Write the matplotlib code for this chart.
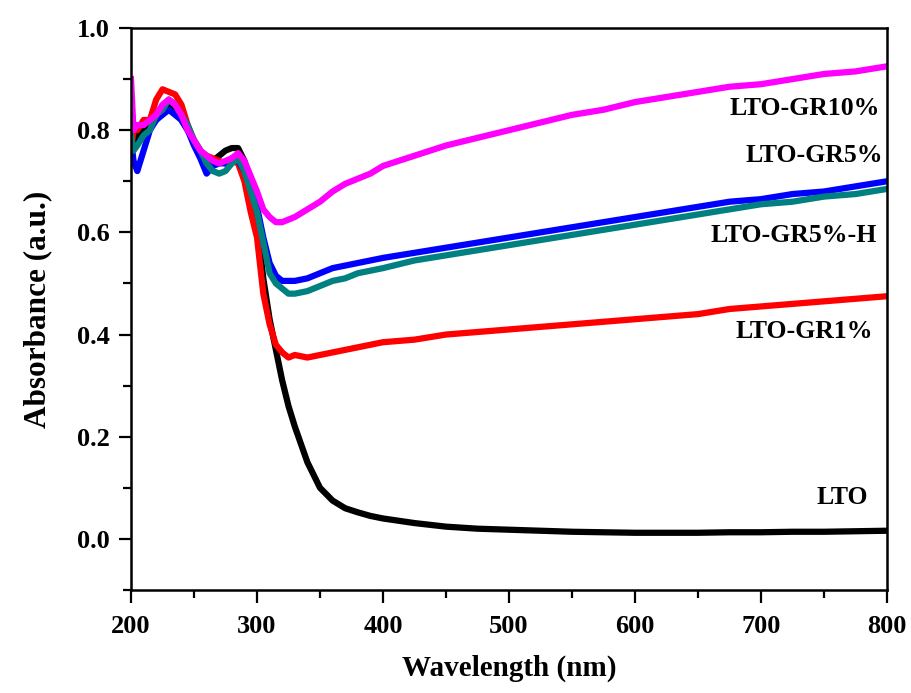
import matplotlib
matplotlib.use("Agg")
from matplotlib import pyplot as plt
from matplotlib.ticker import MultipleLocator

# wavelength grid (nm) shared by all spectra
wavelength = [200, 202, 205, 210, 215, 220, 225, 230, 235, 240, 245, 250, 255, 260, 265,
              270, 275, 280, 285, 290, 295, 300, 305, 310, 315, 320, 325, 330, 340, 350,
              360, 370, 380, 390, 400, 425, 450, 475, 500, 525, 550, 575, 600, 625, 650,
              675, 700, 725, 750, 775, 800]

lto = [0.74, 0.80, 0.78, 0.80, 0.81, 0.82, 0.84, 0.85, 0.84, 0.82, 0.80, 0.78, 0.76, 0.74, 0.74,
       0.75, 0.76, 0.765, 0.765, 0.74, 0.70, 0.62, 0.51, 0.43, 0.37, 0.31, 0.26, 0.22, 0.15, 0.10,
       0.075, 0.06, 0.052, 0.045, 0.04, 0.031, 0.024, 0.02, 0.018, 0.016, 0.014, 0.013, 0.012, 0.012, 0.012,
       0.013, 0.013, 0.014, 0.014, 0.015, 0.016]

gr1 = [0.76, 0.80, 0.80, 0.82, 0.82, 0.86, 0.88, 0.875, 0.87, 0.85, 0.81, 0.78, 0.76, 0.75, 0.745,
       0.74, 0.735, 0.74, 0.735, 0.70, 0.64, 0.59, 0.48, 0.42, 0.38, 0.365, 0.355, 0.36, 0.355, 0.36,
       0.365, 0.37, 0.375, 0.38, 0.385, 0.39, 0.40, 0.405, 0.41, 0.415, 0.42, 0.425, 0.43, 0.435, 0.44,
       0.45, 0.455, 0.46, 0.465, 0.47, 0.475]

gr5 = [0.78, 0.74, 0.72, 0.76, 0.80, 0.82, 0.83, 0.84, 0.83, 0.82, 0.80, 0.77, 0.745, 0.715, 0.73,
       0.735, 0.735, 0.745, 0.74, 0.72, 0.69, 0.65, 0.59, 0.54, 0.515, 0.505, 0.505, 0.505, 0.51, 0.52,
       0.53, 0.535, 0.54, 0.545, 0.55, 0.56, 0.57, 0.58, 0.59, 0.60, 0.61, 0.62, 0.63, 0.64, 0.65,
       0.66, 0.665, 0.675, 0.68, 0.69, 0.70]

gr5h = [0.79, 0.76, 0.77, 0.79, 0.80, 0.83, 0.84, 0.86, 0.85, 0.83, 0.81, 0.78, 0.76, 0.735, 0.72,
        0.715, 0.72, 0.735, 0.745, 0.72, 0.68, 0.64, 0.58, 0.52, 0.50, 0.49, 0.48, 0.48, 0.485, 0.495,
        0.505, 0.51, 0.52, 0.525, 0.53, 0.545, 0.555, 0.565, 0.575, 0.585, 0.595, 0.605, 0.615, 0.625, 0.635,
        0.645, 0.655, 0.66, 0.67, 0.675, 0.685]

gr10 = [0.90, 0.80, 0.81, 0.81, 0.82, 0.83, 0.85, 0.86, 0.85, 0.83, 0.80, 0.78, 0.76, 0.75, 0.74,
        0.735, 0.74, 0.745, 0.755, 0.74, 0.71, 0.68, 0.645, 0.63, 0.62, 0.62, 0.625, 0.63, 0.645, 0.66,
        0.68, 0.695, 0.705, 0.715, 0.73, 0.75, 0.77, 0.785, 0.80, 0.815, 0.83, 0.84, 0.855, 0.865, 0.875,
        0.885, 0.89, 0.90, 0.91, 0.915, 0.925]

# curve label text and its anchor (right edge in nm, centre in absorbance)
names = ["LTO", "LTO-GR1%", "LTO-GR5%", "LTO-GR5%-H", "LTO-GR10%"]
label_x = [785, 789, 797, 792, 794]
label_y = [0.082, 0.405, 0.75, 0.593, 0.843]
colors = ["black", "#ff0000", "#0000ff", "#008080", "#ff00ff"]

plt.rcParams["font.family"] = ["Liberation Serif", "DejaVu Serif"]
plt.rcParams["font.weight"] = "bold"

fig = plt.figure(figsize=(9.11, 6.93), dpi=100)
ax = fig.add_axes([131 / 911, 1 - 590 / 693, (887 - 131) / 911, (590 - 28) / 693])

for values, color in zip([lto, gr1, gr5, gr5h, gr10], colors):
    ax.plot(wavelength, values, color=color, linewidth=4.5, solid_joinstyle="round")

for name, lx, ly in zip(names, label_x, label_y):
    ax.text(lx, ly, name, fontsize=18.5, fontweight="bold", ha="right", va="center")

ax.set_xlim(200, 800)
ax.set_ylim(-0.1, 1.0)
ax.xaxis.set_major_locator(MultipleLocator(100))
ax.xaxis.set_minor_locator(MultipleLocator(50))
ax.yaxis.set_major_locator(MultipleLocator(0.2))
ax.yaxis.set_minor_locator(MultipleLocator(0.1))
ax.tick_params(which="major", direction="out", length=9, width=1.6, labelsize=19, pad=6)
ax.tick_params(axis="x", which="major", pad=9)
ax.tick_params(which="minor", direction="out", length=6, width=1.6)
for s in ax.spines.values():
    s.set_linewidth(1.8)

ax.set_xlabel("Wavelength (nm)", fontsize=21, fontweight="bold", labelpad=12)
ax.set_ylabel("Absorbance (a.u.)", fontsize=22.5, fontweight="bold", labelpad=18)

fig.savefig("out.png", dpi=100)
